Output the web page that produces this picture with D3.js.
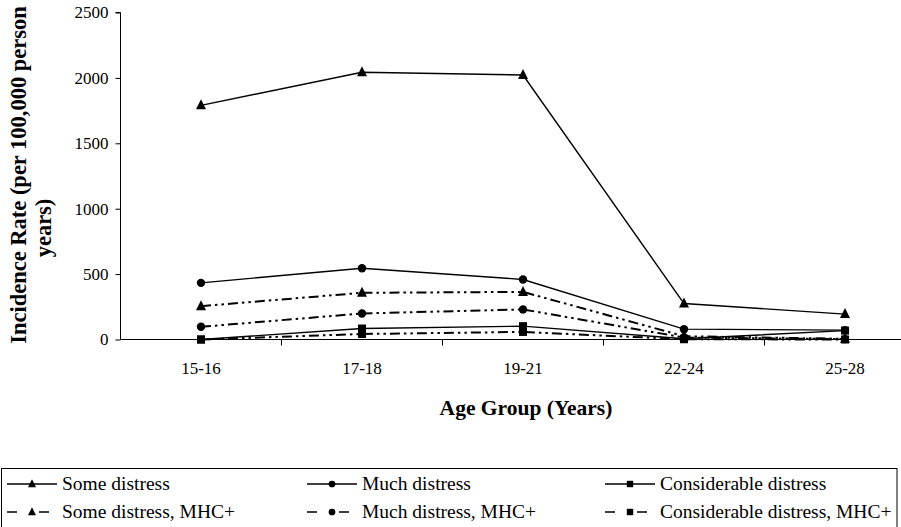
<!DOCTYPE html>
<html><head><meta charset="utf-8">
<script src="https://cdn.jsdelivr.net/npm/d3@7"></script>
<style>
html,body{margin:0;padding:0;background:#fff;}
svg{display:block;font-family:"Liberation Serif","Times New Roman",serif;}
</style></head>
<body>
<svg id="chart" width="901" height="527"></svg>
<script>
const ages = ["15-16","17-18","19-21","22-24","25-28"];
const yTicks = [0,500,1000,1500,2000,2500];
const someDistress = [1790, 2043, 2022, 275, 194];
const muchDistress = [433, 545, 459, 79, 72];
const considerableDistress = [0, 84, 102, 6, 68];
const someDistressMHC = [255, 357, 364, 25, 5];
const muchDistressMHC = [97, 199, 230, 15, 3];
const considerableDistressMHC = [0, 42, 58, 2, 0];

const seriesNames = ["Some distress","Much distress","Considerable distress",
  "Some distress, MHC+","Much distress, MHC+","Considerable distress, MHC+"];
const seriesValues = [someDistress, muchDistress, considerableDistress,
  someDistressMHC, muchDistressMHC, considerableDistressMHC];
const seriesMarkers = ["triangle","circle","square","triangle","circle","square"];
const seriesDashed = [false,false,false,true,true,true];

const FONT = '"Liberation Serif","Times New Roman",serif';
const svg = d3.select("#chart");
const x = d3.scaleBand().domain(ages).range([120.5, 120.5 + 161*5]);
const y = d3.scaleLinear().domain([0,2500]).range([339.5, 12.5]);

// Y axis
const yAxis = svg.append("g").attr("transform","translate(120.5,0)")
  .call(d3.axisLeft(y).tickValues(yTicks).tickSize(5).tickPadding(7).tickFormat(d3.format("d")));
yAxis.attr("font-family",FONT).attr("font-size",17);
yAxis.selectAll("text").attr("fill","#000");
yAxis.selectAll("line,path").attr("stroke","#000");
yAxis.select(".domain").attr("d","M-5,12.5H0V339.5");

// X axis
const xAxis = svg.append("g").attr("transform","translate(0,339.5)")
  .call(d3.axisBottom(x).tickSize(0).tickPadding(22));
xAxis.attr("font-family",FONT).attr("font-size",17);
xAxis.selectAll("text").attr("fill","#000");
xAxis.select(".domain").attr("stroke","#000").attr("d","M120.5,0H901");
const bounds = ages.map(a => x(a)).slice(1).concat([x(ages[4]) + x.bandwidth()]);
xAxis.selectAll(".bt").data(bounds).enter().append("line")
  .attr("x1",d=>d).attr("x2",d=>d).attr("y1",0).attr("y2",6).attr("stroke","#000");

// Axis titles
svg.append("text").attr("x",526).attr("y",415).attr("text-anchor","middle")
  .attr("font-weight","bold").attr("font-size","21.5px").text("Age Group (Years)");
svg.append("text").attr("transform","translate(26,175) rotate(-90)").attr("text-anchor","middle")
  .attr("font-weight","bold").attr("font-size","22.5px").text("Incidence Rate (per 100,000 person");
svg.append("text").attr("transform","translate(51,228) rotate(-90)").attr("text-anchor","middle")
  .attr("font-weight","bold").attr("font-size","22.5px").text("years)");

const cx = a => x(a) + x.bandwidth()/2;
const line = d3.line().x((d,i)=>cx(ages[i])).y(d=>y(d));
const dashPattern = "10,4,2.5,4,2.5,4";

function marker(g, type, px, py, s) {
  if (type === "triangle") {
    g.append("path").attr("d", `M${px},${py-s*0.6}L${px+s/2},${py+s*0.4}L${px-s/2},${py+s*0.4}Z`).attr("fill","#000");
  } else if (type === "circle") {
    g.append("circle").attr("cx",px).attr("cy",py).attr("r",s*0.42).attr("fill","#000");
  } else {
    g.append("rect").attr("x",px-s*0.4).attr("y",py-s*0.4).attr("width",s*0.8).attr("height",s*0.8).attr("fill","#000");
  }
}

const order = [3,4,5,0,1,2];
order.forEach(k => {
  svg.append("path").attr("d", line(seriesValues[k])).attr("fill","none").attr("stroke","#000")
    .attr("stroke-width", seriesDashed[k] ? 2 : 1.4)
    .attr("stroke-dasharray", seriesDashed[k] ? dashPattern : null);
});
order.forEach(k => {
  const g = svg.append("g");
  seriesValues[k].forEach((v,i) => marker(g, seriesMarkers[k], cx(ages[i]), y(v), 10));
});

// Legend
const lg = svg.append("g");
lg.append("rect").attr("x",1.5).attr("y",468.5).attr("width",895.5).attr("height",80)
  .attr("fill","none").attr("stroke","#000").attr("stroke-width",1);
const colX = [7, 307, 605];
const rowY = [484, 512];
seriesNames.forEach((name,k) => {
  const col = k % 3, row = Math.floor(k/3);
  const x0 = colX[col], yy = rowY[row];
  const gg = lg.append("g");
  gg.append("line").attr("x1",x0).attr("x2",x0+50).attr("y1",yy).attr("y2",yy)
    .attr("stroke","#000").attr("stroke-width",1.4)
    .attr("stroke-dasharray", seriesDashed[k] ? "10,22,10,8" : null);
  marker(gg, seriesMarkers[k], x0+25, yy, 8);
  gg.append("text").attr("x",x0+55).attr("y",yy+6).attr("font-size","19.5px").text(name);
});
</script>
</body></html>
